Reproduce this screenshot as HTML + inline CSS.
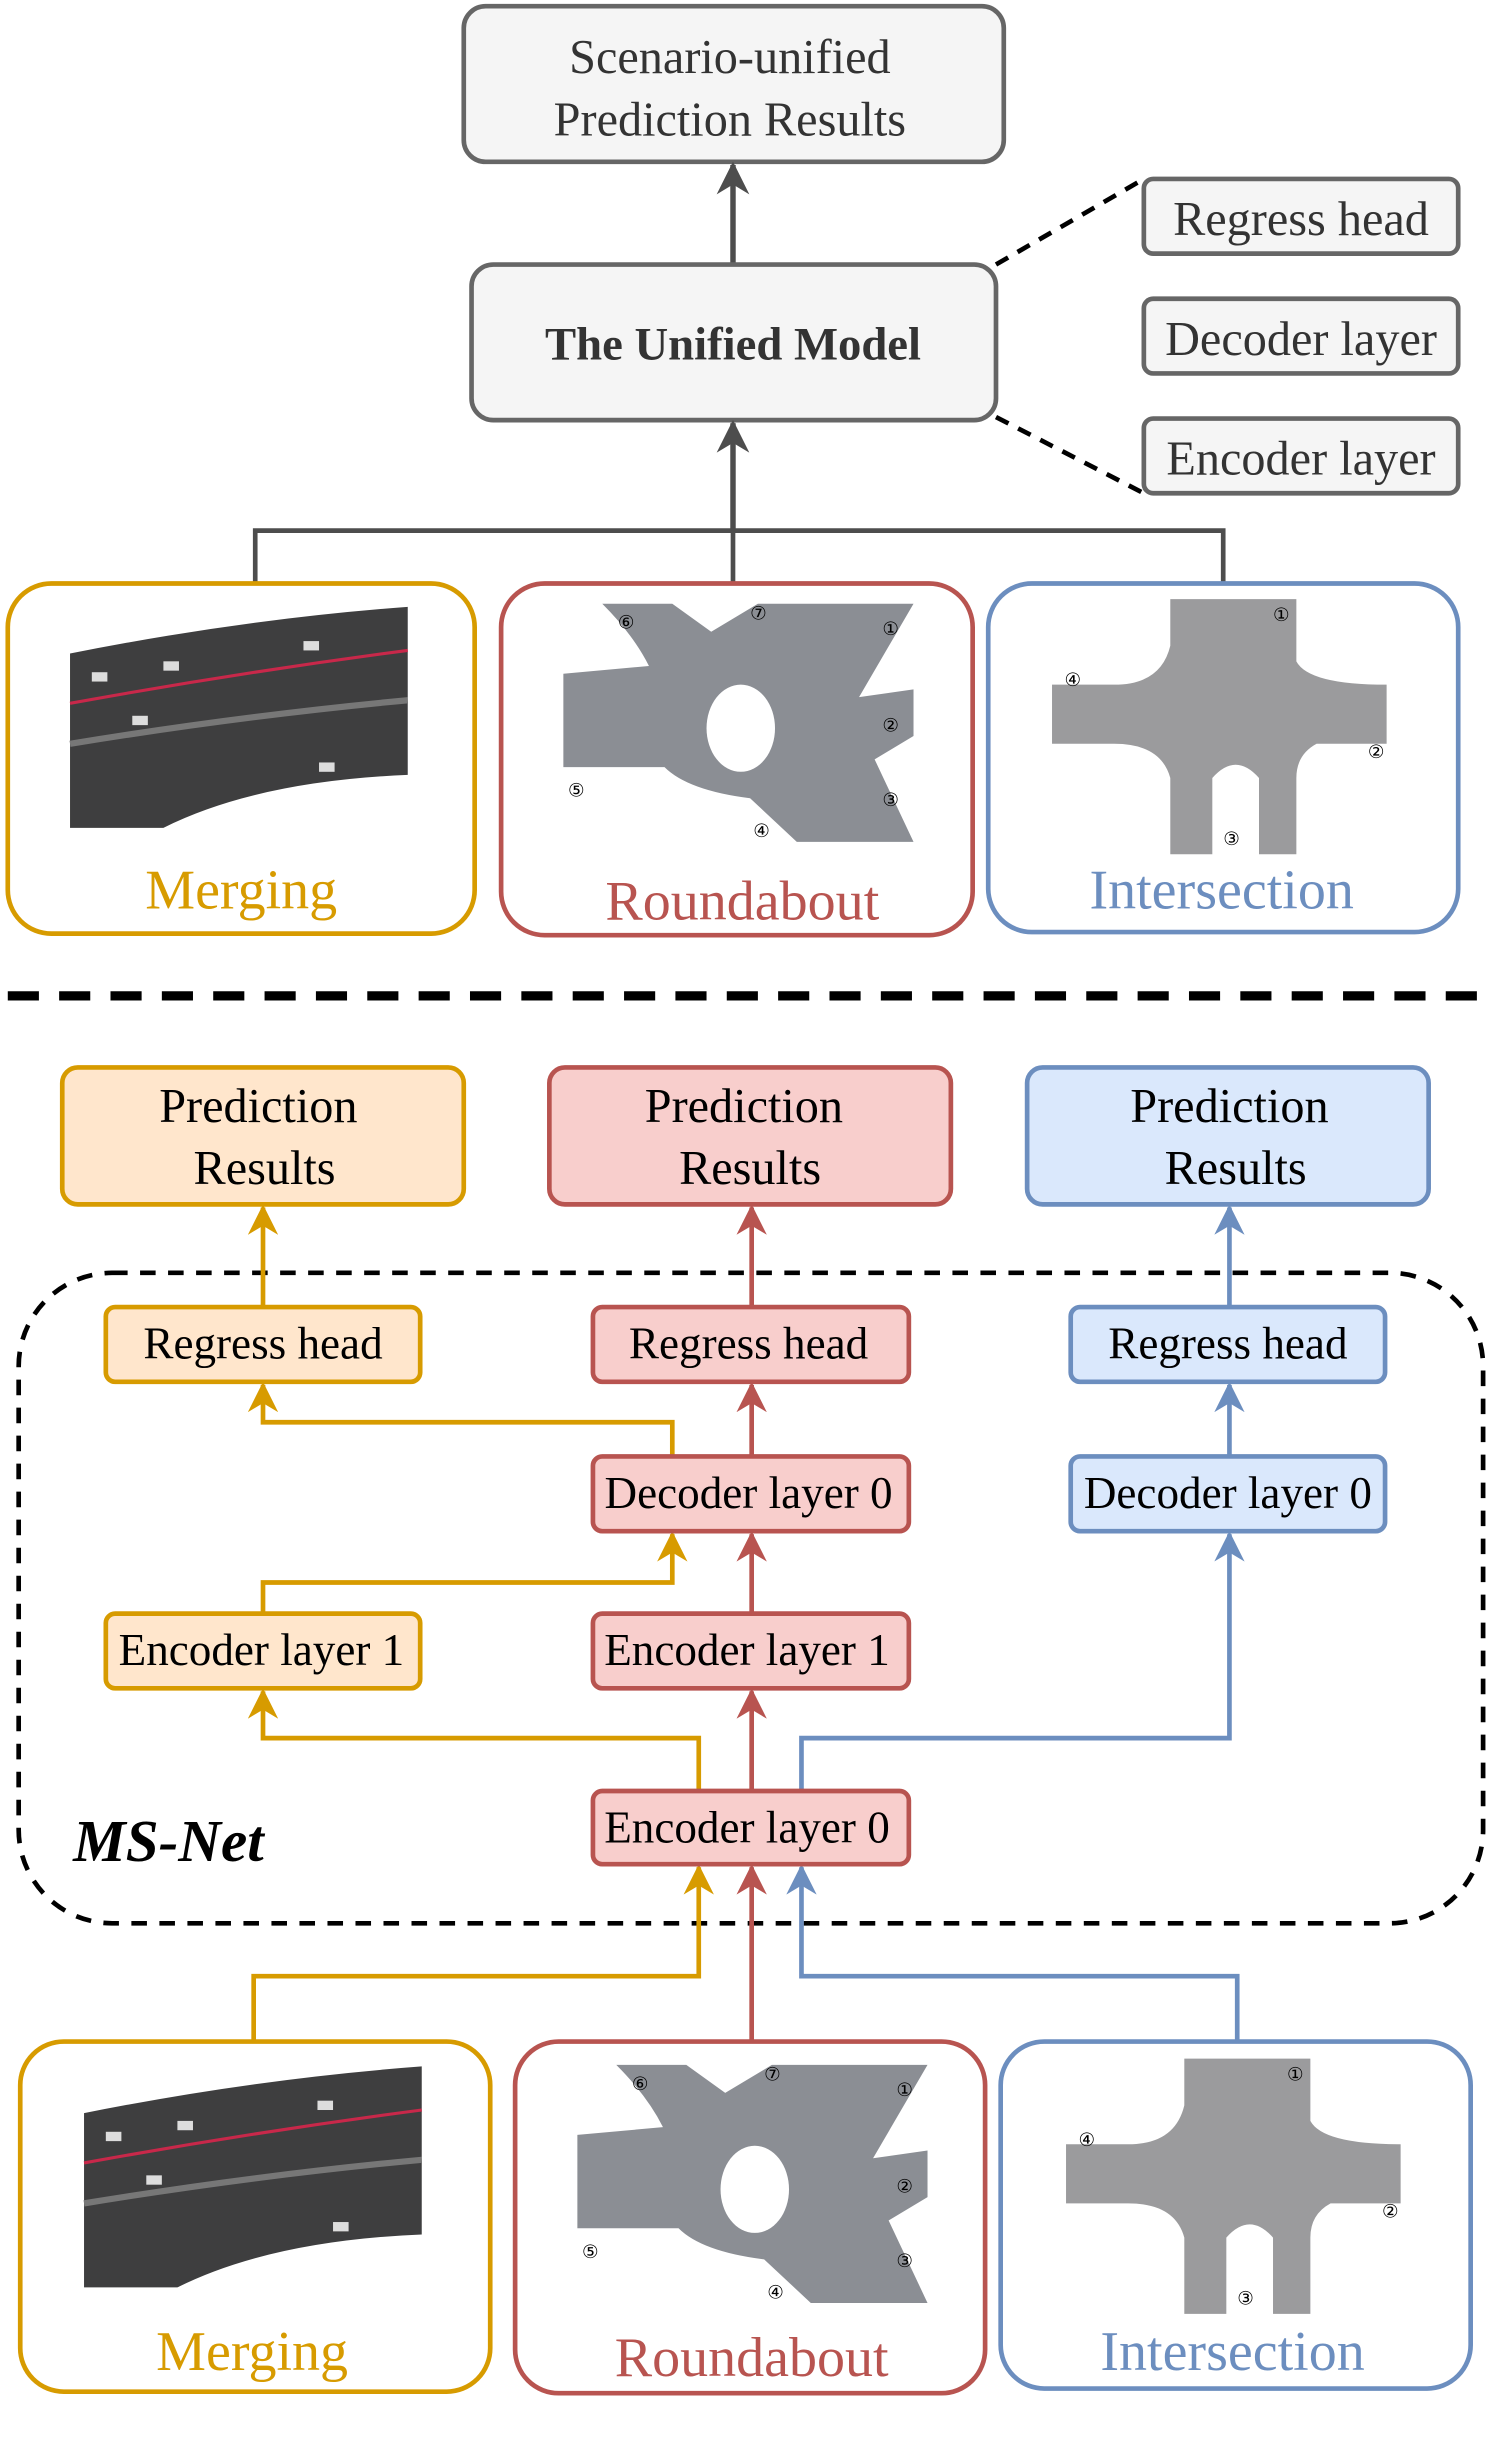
<!DOCTYPE html>
<html><head><meta charset="utf-8"><style>
html,body{margin:0;padding:0;background:#fff;}
svg{display:block;}
text{font-family:"Liberation Serif","Times New Roman",serif;}
</style></head><body>
<svg width="1494" height="2443" viewBox="0 0 960 1570" preserveAspectRatio="none" xmlns="http://www.w3.org/2000/svg">
<defs>
<marker id="ag" viewBox="0 0 10 10" refX="9" refY="5" markerWidth="6" markerHeight="6" orient="auto"><path d="M0,0 L10,5 L0,10 L3,5 z" fill="#4d4d4d"/></marker>
<marker id="ao" viewBox="0 0 10 10" refX="9" refY="5" markerWidth="6.5" markerHeight="6.5" orient="auto"><path d="M0,0 L10,5 L0,10 L3,5 z" fill="#d79b00"/></marker>
<marker id="ar" viewBox="0 0 10 10" refX="9" refY="5" markerWidth="6.5" markerHeight="6.5" orient="auto"><path d="M0,0 L10,5 L0,10 L3,5 z" fill="#b85450"/></marker>
<marker id="ab" viewBox="0 0 10 10" refX="9" refY="5" markerWidth="6.5" markerHeight="6.5" orient="auto"><path d="M0,0 L10,5 L0,10 L3,5 z" fill="#6c8ebf"/></marker>
<g id="imgM">
 <path d="M0,30 Q110,8 217,0 L217,108 Q120,112 60,142 L0,142 Z" fill="#3e3e3f"/>
 <path d="M0,62 Q110,42 217,28" stroke="#c8284a" stroke-width="2" fill="none"/>
 <path d="M0,88 Q110,70 217,60" stroke="#777" stroke-width="4" fill="none"/>
 <rect x="14" y="42" width="10" height="6" fill="#ddd"/><rect x="60" y="35" width="10" height="6" fill="#ddd"/><rect x="150" y="22" width="10" height="6" fill="#ddd"/><rect x="40" y="70" width="10" height="6" fill="#ddd"/><rect x="160" y="100" width="10" height="6" fill="#ddd"/>
</g>
<g id="imgR">
 <path d="M25,0 L70,0 L95,18 L125,0 L225,0 L190,60 L225,55 L225,85 L200,100 L225,153 L150,153 L120,125 Q80,120 65,105 L0,105 L0,45 L55,40 Q45,20 25,0 Z" fill="#8b8e94"/>
 <ellipse cx="114" cy="80" rx="22" ry="28" fill="#fff"/>
 <text x="35" y="16" font-size="12">⑥</text><text x="120" y="10" font-size="12">⑦</text><text x="205" y="20" font-size="12">①</text><text x="205" y="82" font-size="12">②</text><text x="205" y="130" font-size="12">③</text><text x="122" y="150" font-size="12">④</text><text x="3" y="124" font-size="12">⑤</text>
</g>
<g id="imgI">
 <path d="M76,0 L157,0 L157,40 Q165,55 215,55 L215,93 L170,93 Q157,100 157,115 L157,164 L133,164 L133,115 Q118,98 103,115 L103,164 L76,164 L76,115 Q70,93 40,93 L0,93 L0,55 L40,55 Q70,55 76,30 Z" fill="#9b9b9d"/>
 <text x="142" y="14" font-size="12">①</text><text x="8" y="56" font-size="12">④</text><text x="203" y="102" font-size="12">②</text><text x="110" y="158" font-size="12">③</text>
</g>
</defs>

<!-- TOP -->
<rect x="298" y="4" width="347" height="100" rx="14" fill="#f5f5f5" stroke="#666" stroke-width="3"/>
<text x="469" y="47" font-size="31" text-anchor="middle" fill="#333">Scenario-unified</text>
<text x="469" y="87" font-size="31" text-anchor="middle" fill="#333">Prediction Results</text>
<line x1="471" y1="170" x2="471" y2="106" stroke="#4d4d4d" stroke-width="3.5" marker-end="url(#ag)"/>
<rect x="303" y="170" width="337" height="100" rx="14" fill="#f5f5f5" stroke="#666" stroke-width="3"/>
<text x="471" y="231" font-size="30" font-weight="bold" text-anchor="middle" fill="#333">The Unified Model</text>
<rect x="735" y="115" width="202" height="48" rx="6" fill="#f5f5f5" stroke="#666" stroke-width="3"/>
<text x="836" y="151" font-size="31" text-anchor="middle" fill="#333">Regress head</text>
<rect x="735" y="192" width="202" height="48" rx="6" fill="#f5f5f5" stroke="#666" stroke-width="3"/>
<text x="836" y="228" font-size="31" text-anchor="middle" fill="#333">Decoder layer</text>
<rect x="735" y="269" width="202" height="48" rx="6" fill="#f5f5f5" stroke="#666" stroke-width="3"/>
<text x="836" y="305" font-size="31" text-anchor="middle" fill="#333">Encoder layer</text>
<line x1="640" y1="170" x2="735" y2="115" stroke="#000" stroke-width="3" stroke-dasharray="9,7"/>
<line x1="640" y1="268" x2="735" y2="317" stroke="#000" stroke-width="3" stroke-dasharray="9,7"/>
<line x1="471" y1="341" x2="471" y2="272" stroke="#4d4d4d" stroke-width="3.5" marker-end="url(#ag)"/>
<polyline points="164,375 164,341 786,341 786,375" fill="none" stroke="#4d4d4d" stroke-width="3"/>
<line x1="471" y1="341" x2="471" y2="375" stroke="#4d4d4d" stroke-width="3"/>

<rect x="5" y="375" width="300" height="225" rx="28" fill="#fff" stroke="#d79b00" stroke-width="3"/>
<use href="#imgM" x="45" y="390"/>
<text x="155" y="584" font-size="36" text-anchor="middle" fill="#d79b00">Merging</text>
<rect x="322" y="375" width="303" height="226" rx="28" fill="#fff" stroke="#b85450" stroke-width="3"/>
<use href="#imgR" x="362" y="388"/>
<text x="477" y="591" font-size="36" text-anchor="middle" fill="#b85450">Roundabout</text>
<rect x="635" y="375" width="302" height="224" rx="28" fill="#fff" stroke="#6c8ebf" stroke-width="3"/>
<use href="#imgI" x="676" y="385"/>
<text x="785" y="584" font-size="36" text-anchor="middle" fill="#6c8ebf">Intersection</text>

<line x1="5" y1="640" x2="950" y2="640" stroke="#000" stroke-width="6" stroke-dasharray="20,13"/>

<!-- BOTTOM -->
<rect x="12" y="818" width="941" height="418" rx="60" fill="none" stroke="#000" stroke-width="3" stroke-dasharray="10,8"/>

<rect x="40" y="686" width="258" height="88" rx="10" fill="#ffe6cc" stroke="#d79b00" stroke-width="3"/>
<text x="166" y="721" font-size="31" text-anchor="middle">Prediction</text><text x="170" y="761" font-size="31" text-anchor="middle">Results</text>
<rect x="353" y="686" width="258" height="88" rx="10" fill="#f8cecc" stroke="#b85450" stroke-width="3"/>
<text x="478" y="721" font-size="31" text-anchor="middle">Prediction</text><text x="482" y="761" font-size="31" text-anchor="middle">Results</text>
<rect x="660" y="686" width="258" height="88" rx="10" fill="#dae8fc" stroke="#6c8ebf" stroke-width="3"/>
<text x="790" y="721" font-size="31" text-anchor="middle">Prediction</text><text x="794" y="761" font-size="31" text-anchor="middle">Results</text>

<g fill="none" stroke-width="3">
<line x1="169" y1="840" x2="169" y2="776" stroke="#d79b00" marker-end="url(#ao)"/>
<line x1="483" y1="840" x2="483" y2="776" stroke="#b85450" marker-end="url(#ar)"/>
<line x1="790" y1="840" x2="790" y2="776" stroke="#6c8ebf" marker-end="url(#ab)"/>
<polyline points="432,936 432,914 169,914 169,890" stroke="#d79b00" marker-end="url(#ao)"/>
<line x1="483" y1="936" x2="483" y2="890" stroke="#b85450" marker-end="url(#ar)"/>
<line x1="790" y1="936" x2="790" y2="890" stroke="#6c8ebf" marker-end="url(#ab)"/>
<polyline points="169,1037 169,1017 432,1017 432,986" stroke="#d79b00" marker-end="url(#ao)"/>
<line x1="483" y1="1037" x2="483" y2="986" stroke="#b85450" marker-end="url(#ar)"/>
<polyline points="449,1151 449,1117 169,1117 169,1087" stroke="#d79b00" marker-end="url(#ao)"/>
<line x1="483" y1="1151" x2="483" y2="1087" stroke="#b85450" marker-end="url(#ar)"/>
<polyline points="515,1151 515,1117 790,1117 790,986" stroke="#6c8ebf" marker-end="url(#ab)"/>
<polyline points="163,1312 163,1270 449,1270 449,1200" stroke="#d79b00" marker-end="url(#ao)"/>
<line x1="483" y1="1312" x2="483" y2="1200" stroke="#b85450" marker-end="url(#ar)"/>
<polyline points="795,1312 795,1270 515,1270 515,1200" stroke="#6c8ebf" marker-end="url(#ab)"/>
</g>

<rect x="68" y="840" width="202" height="48" rx="6" fill="#ffe6cc" stroke="#d79b00" stroke-width="3"/>
<text x="169" y="873" font-size="29" text-anchor="middle">Regress head</text>
<rect x="381" y="840" width="203" height="48" rx="6" fill="#f8cecc" stroke="#b85450" stroke-width="3"/>
<text x="481" y="873" font-size="29" text-anchor="middle">Regress head</text>
<rect x="688" y="840" width="202" height="48" rx="6" fill="#dae8fc" stroke="#6c8ebf" stroke-width="3"/>
<text x="789" y="873" font-size="29" text-anchor="middle">Regress head</text>

<rect x="381" y="936" width="203" height="48" rx="6" fill="#f8cecc" stroke="#b85450" stroke-width="3"/>
<text x="481" y="969" font-size="29" text-anchor="middle">Decoder layer 0</text>
<rect x="688" y="936" width="202" height="48" rx="6" fill="#dae8fc" stroke="#6c8ebf" stroke-width="3"/>
<text x="789" y="969" font-size="29" text-anchor="middle">Decoder layer 0</text>

<rect x="68" y="1037" width="202" height="48" rx="6" fill="#ffe6cc" stroke="#d79b00" stroke-width="3"/>
<text x="168" y="1070" font-size="29" text-anchor="middle">Encoder layer 1</text>
<rect x="381" y="1037" width="203" height="48" rx="6" fill="#f8cecc" stroke="#b85450" stroke-width="3"/>
<text x="480" y="1070" font-size="29" text-anchor="middle">Encoder layer 1</text>

<rect x="381" y="1151" width="203" height="47" rx="6" fill="#f8cecc" stroke="#b85450" stroke-width="3"/>
<text x="480" y="1184" font-size="29" text-anchor="middle">Encoder layer 0</text>

<text x="47" y="1196" font-size="38" font-weight="bold" font-style="italic">MS-Net</text>

<rect x="13" y="1312" width="302" height="225" rx="28" fill="#fff" stroke="#d79b00" stroke-width="3"/>
<use href="#imgM" x="54" y="1328"/>
<text x="162" y="1523" font-size="36" text-anchor="middle" fill="#d79b00">Merging</text>
<rect x="331" y="1312" width="302" height="226" rx="28" fill="#fff" stroke="#b85450" stroke-width="3"/>
<use href="#imgR" x="371" y="1327"/>
<text x="483" y="1527" font-size="36" text-anchor="middle" fill="#b85450">Roundabout</text>
<rect x="643" y="1312" width="302" height="223" rx="28" fill="#fff" stroke="#6c8ebf" stroke-width="3"/>
<use href="#imgI" x="685" y="1323"/>
<text x="792" y="1523" font-size="36" text-anchor="middle" fill="#6c8ebf">Intersection</text>
</svg>
</body></html>
